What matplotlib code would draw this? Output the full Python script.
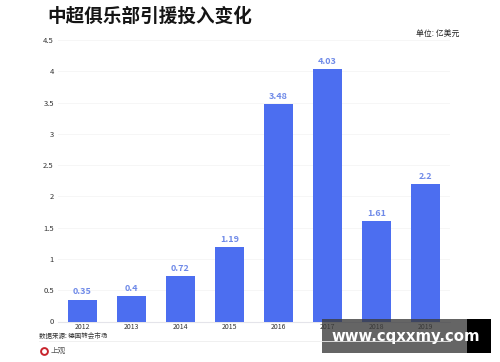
import matplotlib
matplotlib.use("Agg")
import matplotlib.pyplot as plt
from matplotlib.patches import Rectangle, Circle

plt.rcParams["font.family"] = ["Noto Sans CJK SC", "DejaVu Sans"]

years = ["2012", "2013", "2014", "2015", "2016", "2017", "2018", "2019"]
values = [0.35, 0.4, 0.72, 1.19, 3.48, 4.03, 1.61, 2.2]
value_labels = ["0.35", "0.4", "0.72", "1.19", "3.48", "4.03", "1.61", "2.2"]
y_ticks = [0, 0.5, 1, 1.5, 2, 2.5, 3, 3.5, 4, 4.5]
y_tick_labels = ["0", "0.5", "1", "1.5", "2", "2.5", "3", "3.5", "4", "4.5"]

W, H = 500, 362
fig = plt.figure(figsize=(W / 100, H / 100), dpi=100)
ax = fig.add_axes([58 / W, 1 - 321.5 / H, 392 / W, 281.5 / H])

# Bars
ax.bar(range(len(years)), values, width=0.59, color="#4c6ef0", zorder=3)
for i, v in enumerate(values):
    ax.text(i, v + 0.05, value_labels[i], ha="center", va="bottom", fontsize=6.5,
            fontweight="bold", color="#6f8ae8", zorder=4)

ax.set_xlim(-0.5, 7.5)
ax.set_ylim(0, 4.5)
ax.set_xticks(range(len(years)))
ax.set_xticklabels(years, fontsize=5, color="#333333")
ax.set_yticks(y_ticks)
ax.set_yticklabels(y_tick_labels, fontsize=5.5, color="#333333")
ax.tick_params(axis="x", length=0, pad=1)
ax.tick_params(axis="y", length=0, pad=3)
ax.grid(axis="y", color="#f6f6f6", linewidth=0.7, zorder=0)
for s in ["top", "right", "left"]:
    ax.spines[s].set_visible(False)
ax.spines["bottom"].set_color("#e4e4ea")

# Title and notes
fig.text(47 / W, 1 - 16 / H, "中超俱乐部引援投入变化", fontsize=13.4, fontweight="bold",
         color="#151515", va="center")
fig.text(416 / W, 1 - 33.5 / H, "单位: 亿美元", fontsize=5.7, color="#222222", va="center")
fig.text(39 / W, 1 - 336 / H, "数据来源: 德国转会市场", fontsize=4.7, color="#333333", va="center")
fig.add_artist(plt.Line2D([39 / W, 450 / W], [1 - 340.5 / H, 1 - 340.5 / H],
                          color="#eeeeee", linewidth=0.6))

# Logo
px = fig.add_axes([0, 0, 1, 1], facecolor="none")
px.set_xlim(0, W)
px.set_ylim(H, 0)
px.axis("off")
px.add_patch(Circle((44.5, 351.5), 3.4, fill=False, edgecolor="#c8232c", linewidth=1.4))
px.text(51, 350.5, "上观", fontsize=5.5, color="#555555", va="center")

# Watermark
px.add_patch(Rectangle((322, 319), 145, 34, facecolor="#3a3a3a", alpha=0.78, linewidth=0))
px.add_patch(Rectangle((467, 319), 24, 34, facecolor="black", linewidth=0))
px.text(406, 337, "www.cqxxmy.com", fontsize=10.7, fontweight="bold", color="white",
        ha="center", va="center", family="DejaVu Sans")

fig.savefig("out.png", dpi=100)
